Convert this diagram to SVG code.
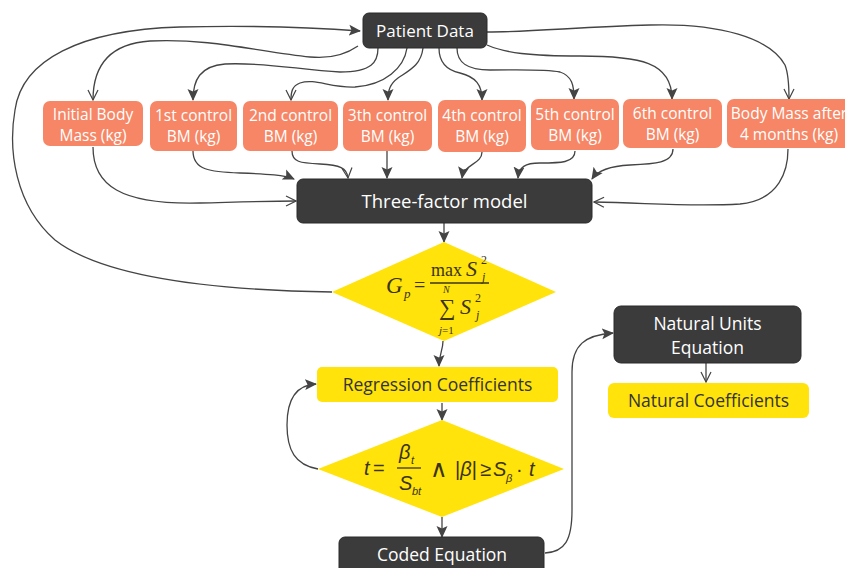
<svg xmlns="http://www.w3.org/2000/svg" width="845" height="568" viewBox="0 0 845 568">
<defs>
<style>
.dark{fill:#3b3b3b;stroke:#2a2a2a;stroke-width:1}
.orange{fill:#f68665}
.yellow{fill:#ffe30b}
.tw{font-family:"Open Sans","Liberation Sans",sans-serif;fill:#ffffff;text-anchor:middle}
.tk{font-family:"Open Sans","Liberation Sans",sans-serif;fill:#333333;text-anchor:middle}
.ot{font-size:15.5px}
.conn path{fill:none;stroke:#444;stroke-width:1.3}
.f1{font-family:"Liberation Serif","Times New Roman",serif;fill:#3b3418}
.f2{font-family:"Liberation Sans",Arial,sans-serif;fill:#3b3418}
.i{font-style:italic}
</style>
<marker id="af" viewBox="0 0 12 12" refX="11" refY="6" markerWidth="12" markerHeight="12" markerUnits="userSpaceOnUse" orient="auto">
<path d="M0,0.5 L12,6 L0,11.5 L2.5,6 z" fill="#444"/>
</marker>
<marker id="ao" viewBox="0 0 12 12" refX="11" refY="6" markerWidth="12" markerHeight="12" markerUnits="userSpaceOnUse" orient="auto">
<path d="M1,1 L11,6 L1,11" fill="none" stroke="#444" stroke-width="1.2"/>
</marker>
</defs>
<rect width="845" height="568" fill="#ffffff"/>

<g class="conn">
<path d="M 332 292 C 200 290, 100 275, 55 240 C 15 205, 8 150, 15 110 C 22 60, 80 30, 180 27 C 260 25, 320 28, 360 31" marker-end="url(#af)"/>
<path d="M 358 46 C 345 55, 330 59, 310 57 C 260 52, 210 38, 150 41 C 105 44, 93 70, 93 100" marker-end="url(#ao)"/>
<path d="M 378 48 C 378 62, 372 72, 340 72 C 300 70, 265 62, 225 64 C 200 66, 193 80, 193 100" marker-end="url(#af)"/>
<path d="M 407 48 C 404 68, 385 85, 355 87 C 330 88, 315 78, 300 83 C 292 86, 291 92, 291 100" marker-end="url(#ao)"/>
<path d="M 423 48 C 421 65, 410 70, 398 78 C 390 84, 388 90, 388 100" marker-end="url(#af)"/>
<path d="M 439 48 C 439 62, 446 70, 460 73 C 476 77, 482 85, 482 100" marker-end="url(#af)"/>
<path d="M 457 48 C 457 62, 466 70, 490 70 C 520 70, 545 69, 560 72 C 572 76, 574 85, 574 99" marker-end="url(#af)"/>
<path d="M 487 45 C 505 53, 530 56, 580 56 C 640 56, 672 62, 672 99" marker-end="url(#af)"/>
<path d="M 487 32 C 530 32, 580 27, 650 25 C 720 23, 770 38, 785 65 C 789 75, 789 88, 789 99" marker-end="url(#ao)"/>

<path d="M 93 147 C 93 185, 120 205, 200 203 C 240 202, 270 201, 296 201" marker-end="url(#ao)"/>
<path d="M 193 151 C 193 170, 210 172, 240 173 C 268 174, 285 175, 294 179" marker-end="url(#af)"/>
<path d="M 292 151 C 292 162, 300 163, 320 164 C 340 165, 347 168, 348 178" marker-end="url(#ao)"/>
<path d="M 387 151 L 387 178" marker-end="url(#af)"/>
<path d="M 482 152 C 482 164, 464 164, 462 178" marker-end="url(#af)"/>
<path d="M 575 151 C 575 163, 560 163, 540 163 C 525 163, 519 167, 518 178" marker-end="url(#af)"/>
<path d="M 673 149 C 673 163, 655 164, 630 165 C 610 166, 598 170, 592 179" marker-end="url(#af)"/>
<path d="M 788 149 C 788 170, 780 200, 740 204 C 690 207, 650 203, 594 202" marker-end="url(#ao)"/>

<path d="M 444 223 L 444 242" marker-end="url(#af)"/>
<path d="M 443 341 C 443 350, 439 355, 439 366" marker-end="url(#af)"/>
<path d="M 442 403 L 442 420" marker-end="url(#af)"/>
<path d="M 318 469 C 295 465, 287 450, 287 425 C 287 400, 295 385, 316 384" marker-end="url(#af)"/>
<path d="M 442 517 L 442 537" marker-end="url(#af)"/>
<path d="M 545 553 C 565 552, 572 540, 572 510 L 572 372 C 572 345, 585 335, 613 333" marker-end="url(#af)"/>
<path d="M 706 363 L 706 382" marker-end="url(#ao)"/>
</g>

<g id="patient-data">
<rect class="dark" x="363" y="13" width="124" height="35" rx="6"/>
<text class="tw" x="425" y="37" font-size="17">Patient Data</text>
</g>

<g id="initial-body-mass">
<rect class="orange" x="43" y="101" width="100" height="45" rx="7"/>
<text class="tw ot" x="93" y="120">Initial Body</text>
<text class="tw ot" x="93" y="141">Mass (kg)</text>
</g>
<g id="bm1">
<rect class="orange" x="150" y="101" width="87" height="50" rx="7"/>
<text class="tw ot" x="193.5" y="121">1st control</text>
<text class="tw ot" x="193.5" y="142">BM (kg)</text>
</g>
<g id="bm2">
<rect class="orange" x="243" y="101" width="95" height="50" rx="7"/>
<text class="tw ot" x="290.5" y="121">2nd control</text>
<text class="tw ot" x="290.5" y="142">BM (kg)</text>
</g>
<g id="bm3">
<rect class="orange" x="343" y="101" width="89" height="50" rx="7"/>
<text class="tw ot" x="387.5" y="121">3th control</text>
<text class="tw ot" x="387.5" y="142">BM (kg)</text>
</g>
<g id="bm4">
<rect class="orange" x="438" y="100" width="88" height="52" rx="7"/>
<text class="tw ot" x="482" y="121">4th control</text>
<text class="tw ot" x="482" y="142">BM (kg)</text>
</g>
<g id="bm5">
<rect class="orange" x="531" y="99" width="88" height="51" rx="7"/>
<text class="tw ot" x="575" y="120">5th control</text>
<text class="tw ot" x="575" y="141">BM (kg)</text>
</g>
<g id="bm6">
<rect class="orange" x="623" y="99" width="99" height="49" rx="7"/>
<text class="tw ot" x="672.5" y="119">6th control</text>
<text class="tw ot" x="672.5" y="140">BM (kg)</text>
</g>
<g id="body-mass-after">
<rect class="orange" x="727" y="99" width="125" height="49" rx="7"/>
<text class="tw ot" x="789" y="119">Body Mass after</text>
<text class="tw ot" x="789" y="140">4 months (kg)</text>
</g>

<g id="three-factor-model">
<rect class="dark" x="297" y="179" width="295" height="44" rx="6"/>
<text class="tw" x="444.5" y="208" font-size="18.5">Three-factor model</text>
</g>

<g id="cochran-test">
<polygon class="yellow" points="444,242 556,292 444,341 332,292"/>
<text class="f1 i" x="386" y="293" font-size="23">G</text>
<text class="f1 i" x="404" y="298" font-size="13">p</text>
<text class="f1" x="414" y="292" font-size="20">=</text>
<line x1="430" y1="283" x2="489" y2="283" stroke="#3b3418" stroke-width="1.3"/>
<text class="f1" x="431" y="276" font-size="18">max</text>
<text class="f1 i" x="466" y="276" font-size="22">S</text>
<text class="f1" x="481" y="264" font-size="12">2</text>
<text class="f1 i" x="482" y="281" font-size="12">j</text>
<text class="f1 i" x="443" y="293" font-size="10">N</text>
<text class="f1" x="439" y="315" font-size="23">∑</text>
<text class="f1" x="439" y="334" font-size="11"><tspan font-style="italic">j</tspan>=1</text>
<text class="f1 i" x="460" y="314" font-size="22">S</text>
<text class="f1" x="475" y="302" font-size="12">2</text>
<text class="f1 i" x="476" y="319" font-size="12">j</text>
</g>

<g id="regression-coefficients">
<rect class="yellow" x="317" y="367" width="241" height="35" rx="5"/>
<text class="tk" x="437.5" y="391" font-size="17.5">Regression Coefficients</text>
</g>

<g id="student-test">
<polygon class="yellow" points="442,420 564,469 442,517 318,469"/>
<text class="f2 i" x="364" y="475" font-size="20">t</text>
<text class="f2" x="373" y="475" font-size="20">=</text>
<text class="f2 i" x="399" y="459" font-size="20">β</text>
<text class="f2 i" x="411" y="464" font-size="11">t</text>
<line x1="397" y1="468" x2="421" y2="468" stroke="#3b3418" stroke-width="1.3"/>
<text class="f2 i" x="399" y="490" font-size="20">S</text>
<text class="f2 i" x="412" y="495" font-size="11">bt</text>
<text class="f2" x="430" y="477" font-size="24">∧</text>
<text class="f2" x="455" y="476" font-size="20">|<tspan font-style="italic">β</tspan>|</text>
<text class="f2" x="480" y="476" font-size="20">≥</text>
<text class="f2 i" x="493" y="476" font-size="20">S</text>
<text class="f2 i" x="506" y="482" font-size="11">β</text>
<text class="f2" x="516" y="476" font-size="20">·</text>
<text class="f2 i" x="529" y="476" font-size="20">t</text>
</g>

<g id="coded-equation">
<rect class="dark" x="339" y="537" width="205" height="40" rx="6"/>
<text class="tw" x="442" y="561" font-size="17.5">Coded Equation</text>
</g>

<g id="natural-units-equation">
<rect class="dark" x="614" y="306" width="187" height="57" rx="7"/>
<text class="tw" x="707.5" y="330" font-size="17.5">Natural Units</text>
<text class="tw" x="707.5" y="354" font-size="17.5">Equation</text>
</g>

<g id="natural-coefficients">
<rect class="yellow" x="608" y="383" width="201" height="35" rx="6"/>
<text class="tk" x="708.5" y="407" font-size="17.5">Natural Coefficients</text>
</g>
</svg>
